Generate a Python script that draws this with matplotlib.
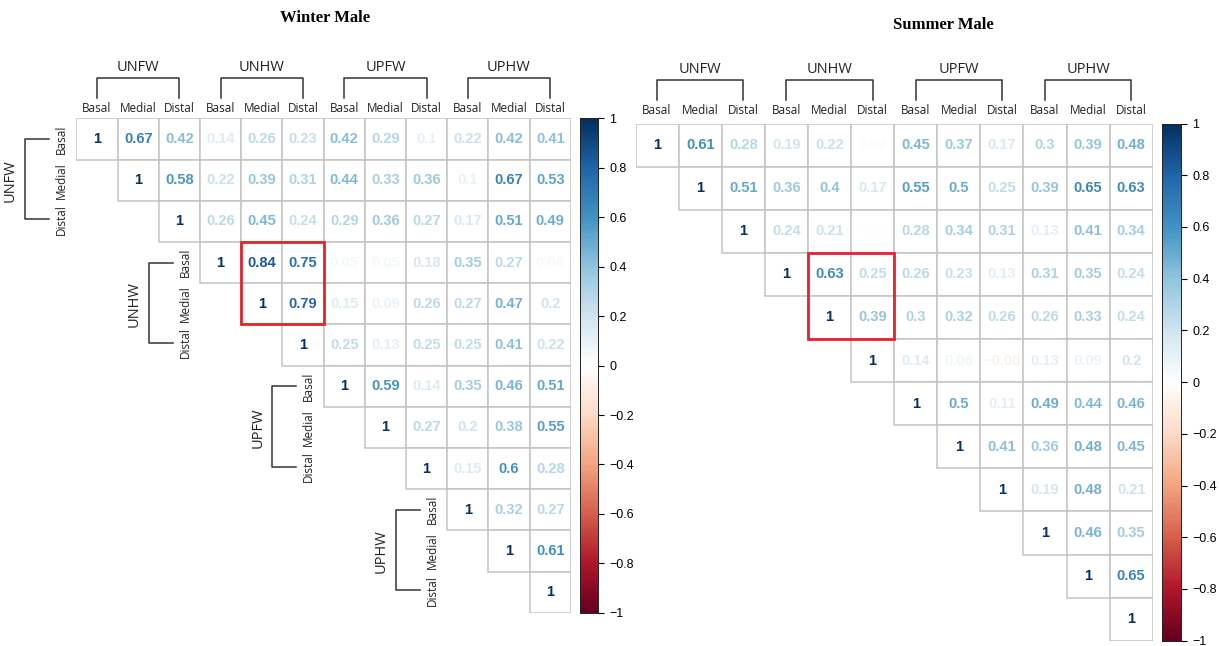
import matplotlib
matplotlib.use("Agg")
import matplotlib.pyplot as plt
import numpy as np
from matplotlib.colors import LinearSegmentedColormap
from matplotlib.patches import Rectangle
from matplotlib import font_manager

# ---------------- data ----------------
groups = ["UNFW", "UNHW", "UPFW", "UPHW"]
parts = ["Basal", "Medial", "Distal"]

winter_rows = [
    [1, 0.67, 0.42, 0.14, 0.26, 0.23, 0.42, 0.29, 0.1, 0.22, 0.42, 0.41],
    [1, 0.58, 0.22, 0.39, 0.31, 0.44, 0.33, 0.36, 0.1, 0.67, 0.53],
    [1, 0.26, 0.45, 0.24, 0.29, 0.36, 0.27, 0.17, 0.51, 0.49],
    [1, 0.84, 0.75, 0.05, 0.05, 0.18, 0.35, 0.27, 0.04],
    [1, 0.79, 0.15, 0.09, 0.26, 0.27, 0.47, 0.2],
    [1, 0.25, 0.13, 0.25, 0.25, 0.41, 0.22],
    [1, 0.59, 0.14, 0.35, 0.46, 0.51],
    [1, 0.27, 0.2, 0.38, 0.55],
    [1, 0.15, 0.6, 0.28],
    [1, 0.32, 0.27],
    [1, 0.61],
    [1],
]

summer_rows = [
    [1, 0.61, 0.28, 0.19, 0.22, 0.02, 0.45, 0.37, 0.17, 0.3, 0.39, 0.48],
    [1, 0.51, 0.36, 0.4, 0.17, 0.55, 0.5, 0.25, 0.39, 0.65, 0.63],
    [1, 0.24, 0.21, -0.01, 0.28, 0.34, 0.31, 0.13, 0.41, 0.34],
    [1, 0.63, 0.25, 0.26, 0.23, 0.13, 0.31, 0.35, 0.24],
    [1, 0.39, 0.3, 0.32, 0.26, 0.26, 0.33, 0.24],
    [1, 0.14, 0.06, -0.08, 0.13, 0.09, 0.2],
    [1, 0.5, 0.11, 0.49, 0.44, 0.46],
    [1, 0.41, 0.36, 0.48, 0.45],
    [1, 0.19, 0.48, 0.21],
    [1, 0.46, 0.35],
    [1, 0.65],
    [1],
]

# highlighted block (row start, col start, nrows, ncols)
highlight = (3, 4, 2, 2)
cbar_ticks = [-1, -0.8, -0.6, -0.4, -0.2, 0, 0.2, 0.4, 0.6, 0.8, 1]

# ---------------- style ----------------
W, H = 1219, 646
cmap = LinearSegmentedColormap.from_list(
    "corrRdBu",
    ["#67001F", "#B2182B", "#D6604D", "#F4A582", "#FDDBC7", "#FFFFFF",
     "#D1E5F0", "#92C5DE", "#4393C3", "#2166AC", "#053061"], N=200)

avail = {f.name for f in font_manager.fontManager.ttflist}
label_font = ["Liberation Sans Narrow", "Open Sans", "DejaVu Sans"]
label_font = [f for f in label_font if f in avail] or ["DejaVu Sans"]
num_font = ["Liberation Sans", "DejaVu Sans"]

fig = plt.figure(figsize=(W / 100, H / 100), dpi=100)


def px_axes(l, t, r, b):
    return fig.add_axes([l / W, 1 - b / H, (r - l) / W, (b - t) / H])


def fmt(v):
    s = f"{v:.2f}".rstrip("0").rstrip(".")
    return s.replace("-", "\u2212")


def draw_matrix(ax, rows, col_lab_y, br_top, br_bot, grp_y, row_labels):
    n = len(rows)
    ax.set_xlim(0, n)
    ax.set_ylim(n, 0)
    ax.axis("off")
    for i, r in enumerate(rows):
        for k, v in enumerate(r):
            j = i + k
            ax.add_patch(Rectangle((j, i), 1, 1, facecolor="white",
                                   edgecolor="#c4c4c4", lw=1.1, zorder=1))
            ax.text(j + 0.5, i + 0.5, fmt(v), ha="center", va="center",
                    color=cmap((v + 1) / 2), fontsize=10.5, fontweight="bold",
                    family=num_font, zorder=3)
    r0, c0, nr, nc = highlight
    ax.add_patch(Rectangle((c0, r0), nc, nr, fill=False, edgecolor="#e8212b",
                           lw=2.0, zorder=4, clip_on=False))
    # column labels & brackets
    for g, name in enumerate(groups):
        for p, part in enumerate(parts):
            ax.text(g * 3 + p + 0.5, col_lab_y, part, ha="center", va="center",
                    fontsize=8.5, family=label_font, color="#222222")
        x0, x1 = g * 3 + 0.5, g * 3 + 2.5
        ax.plot([x0, x0, x1, x1], [br_bot, br_top, br_top, br_bot],
                color="#333333", lw=1.1, clip_on=False)
        ax.text(g * 3 + 1.5, grp_y, name, ha="center", va="center",
                fontsize=10.5, family=label_font, color="#222222")
        if row_labels:
            e = g * 3
            ys = [e + 0.5, e + 1.5, e + 2.45]
            for p, part in enumerate(parts):
                ax.text(e - 0.36, ys[p], part, rotation=90, ha="center",
                        va="center", fontsize=8.5, family=label_font,
                        color="#222222")
            xv, xt = e - 1.25, e - 0.66
            ax.plot([xt, xv, xv, xt], [ys[0], ys[0], ys[2], ys[2]],
                    color="#333333", lw=1.1, clip_on=False)
            ax.text(e - 1.6, e + 1.5, name, rotation=90, ha="center",
                    va="center", fontsize=10.5, family=label_font,
                    color="#222222")


def draw_cbar(cax):
    grad = np.linspace(-1, 1, 256).reshape(-1, 1)
    cax.imshow(grad, aspect="auto", cmap=cmap, origin="lower",
               extent=[0, 1, -1, 1], vmin=-1, vmax=1)
    cax.set_xlim(0, 1)
    cax.set_ylim(-1, 1)
    cax.set_xticks([])
    cax.yaxis.tick_right()
    cax.set_yticks(cbar_ticks)
    cax.set_yticklabels([fmt(t) for t in cbar_ticks])
    cax.tick_params(axis="y", length=4, width=0.8, labelsize=9, pad=4)
    for s in cax.spines.values():
        s.set_linewidth(0.7)
        s.set_color("#222222")
    for lab in cax.get_yticklabels():
        lab.set_family(num_font)


# Winter
cw = 41.2
axw = px_axes(76.4, 118.4, 76.4 + 12 * cw, 118.4 + 12 * cw)
draw_matrix(axw, winter_rows, -0.25, -0.98, -0.5, -1.24, True)
caxw = px_axes(580, 118.4, 598, 118.4 + 12 * cw)
draw_cbar(caxw)
fig.text(325 / W, 1 - 18 / H, "Winter Male", ha="center", va="center",
         fontsize=12, fontweight="bold", family=["Liberation Serif", "DejaVu Serif"])

# Summer
cs = 43.1
axs = px_axes(635.5, 123.5, 635.5 + 12 * cs, 123.5 + 12 * cs)
draw_matrix(axs, summer_rows, -0.31, -1.0, -0.54, -1.26, False)
caxs = px_axes(1162, 123.5, 1181, 123.5 + 12 * cs)
draw_cbar(caxs)
fig.text(943 / W, 1 - 25 / H, "Summer Male", ha="center", va="center",
         fontsize=12, fontweight="bold", family=["Liberation Serif", "DejaVu Serif"])

fig.savefig("out.png", dpi=100, facecolor="white")
